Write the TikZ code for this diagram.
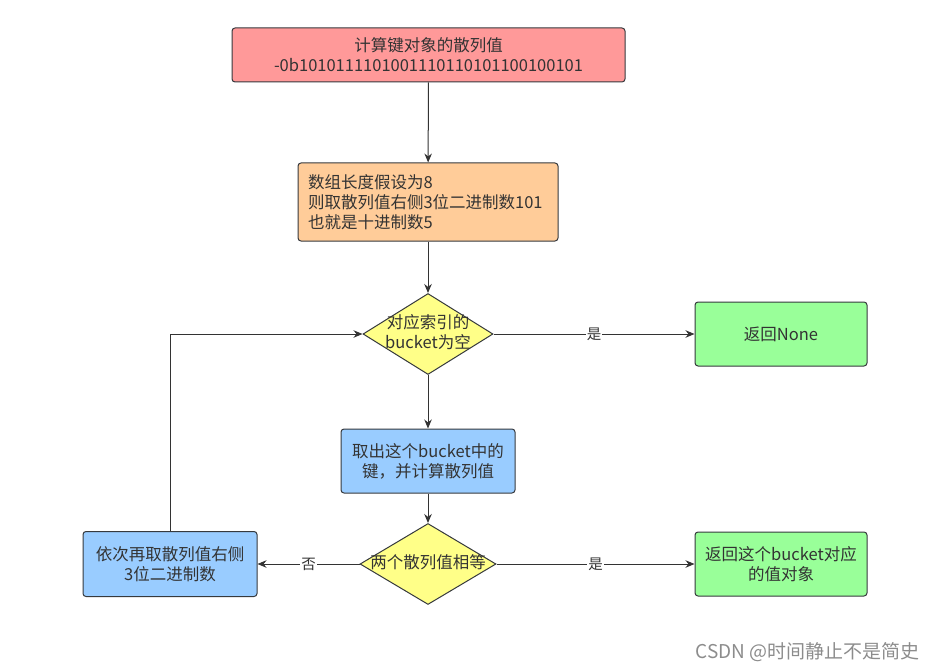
\documentclass[tikz,border=0pt]{standalone}
\usepackage{fontspec}
\setmainfont{Noto Sans CJK SC}
\usetikzlibrary{arrows.meta,shapes.geometric}
\definecolor{edge}{HTML}{36393D}
\definecolor{ink}{HTML}{333333}
\definecolor{hashred}{HTML}{FF9999}
\definecolor{peach}{HTML}{FFCC99}
\definecolor{pale}{HTML}{FFFF88}
\definecolor{mint}{HTML}{99FF99}
\definecolor{sky}{HTML}{99CCFF}
\newcommand{\Flow}[3]{\draw [arc] (#1) -- node [tag] {#3} (#2);}
\newcommand{\Flat}[1]{\makebox[0pt]{\begin{tabular}{@{}c@{}}#1\end{tabular}}}

\begin{document}
\begin{tikzpicture}
[x=1pt, y=-1pt,
 every node/.style={font=\fontsize{16.5}{20}\selectfont, text=ink},
 box/.style={draw=edge, line width=1pt, rounded corners=3pt, align=center,
   inner sep=0pt, minimum height=64pt},
 test/.style={draw=edge, line width=1pt, diamond, fill=pale, inner sep=0pt},
 arc/.style={-{Stealth[length=9pt,width=7.5pt]}, draw=ink, line width=1pt},
 tag/.style={fill=white, inner sep=1pt, font=\fontsize{14.5}{16}\selectfont},]

\useasboundingbox (0,0) rectangle (939,671);

\node [box, fill=hashred, minimum width=393pt, minimum height=54pt] at (428.5,55) (hash)
  {计算键对象的散列值\\-0b1010111101001110110101100100101};
\node [box, fill=peach, minimum height=78pt, text width=240pt, align=left, inner xsep=10pt]
  at (428,202) (index) {数组长度假设为8\\则取散列值右侧3位二进制数101\\也就是十进制数5};
\node [test, minimum width=130pt, minimum height=81pt] at (428,334) (empty)
  {\Flat{对应索引的\\bucket为空}};
\node [box, fill=mint, minimum width=172pt] at (781,334) (none) {返回None};
\node [box, fill=sky, minimum width=174pt] at (428,461) (fetch)
  {取出这个bucket中的\\键，并计算散列值};
\node [test, minimum width=136pt, minimum height=81pt] at (428,564) (equal)
  {\Flat{两个散列值相等}};
\node [box, fill=sky, minimum width=174pt, minimum height=65pt] at (170,564) (retry)
  {依次再取散列值右侧\\3位二进制数};
\node [box, fill=mint, minimum width=172pt] at (781,564) (value)
  {返回这个bucket对应\\的值对象};
\node [anchor=east, text=black!45, font=\fontsize{19}{22}\selectfont] at (923,652) (mark)
  {CSDN @时间静止不是简史};

\draw [arc] (hash) -- (index);
\draw [arc] (index) -- (empty);
\draw [arc] (empty) -- (fetch);
\draw [arc] (fetch) -- (equal);
\Flow{empty}{none}{是}
\Flow{equal}{value}{是}
\Flow{equal}{retry}{否}
\draw [arc] (retry.north) |- (empty.west);
\end{tikzpicture}
\end{document}
